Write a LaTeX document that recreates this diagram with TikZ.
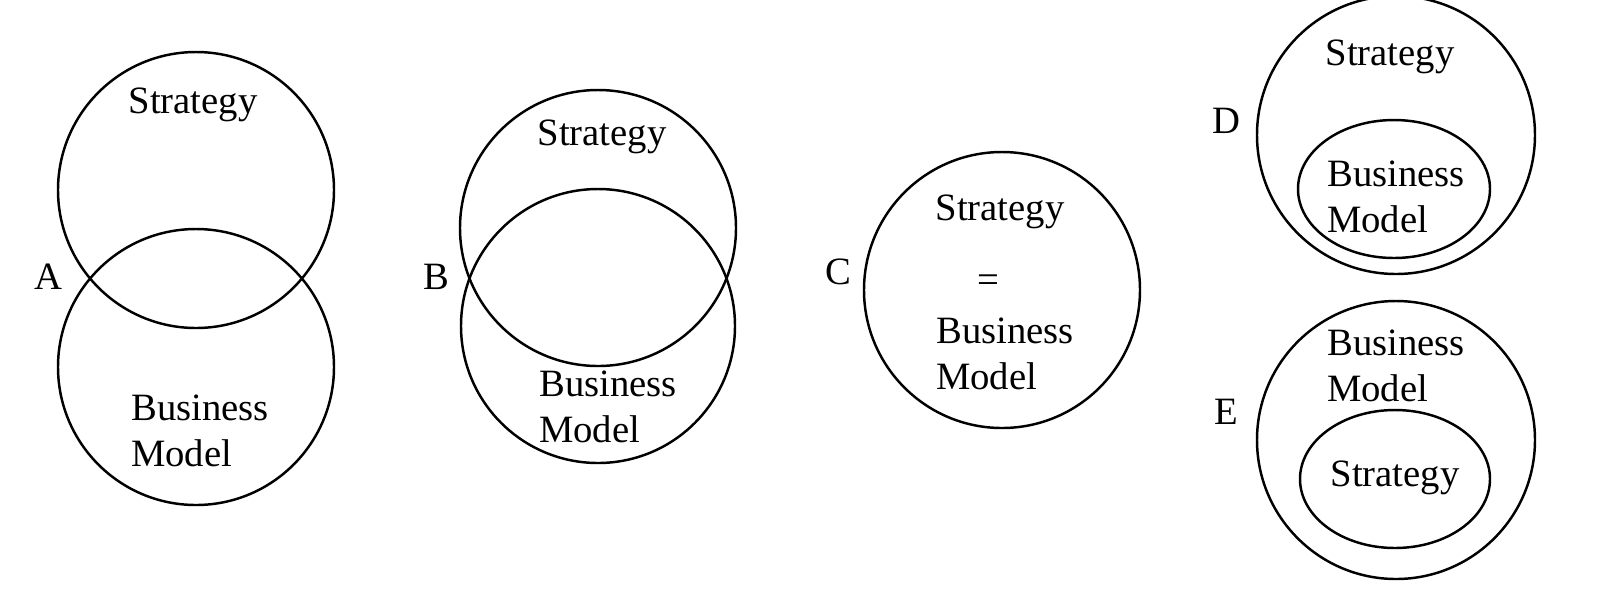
\documentclass[tikz,border=0pt]{standalone}
\usepackage{fontspec}
\setmainfont{Liberation Serif}
\begin{document}
\begin{tikzpicture}[x=0.01cm,y=-0.01cm,
  set/.style={draw,line width=0.7pt},
  lbl/.style={font=\fontsize{11}{13}\selectfont},
  two/.style={lbl,align=left}]
\useasboundingbox (0,0) rectangle (1620,599);

% A
\draw[set] (196,190) circle (138);
\draw[set] (196,367) circle (138);
\node[lbl] (a) at (48,277) {A};
\node[lbl] (sa) at (193,105) {Strategy};
\node[two] (ba) at (200,431) {Business\\Model};

% B
\draw[set] (598,228) circle (138);
\draw[set] (598,326) circle (137);
\node[lbl] (b) at (436,277) {B};
\node[lbl] (sb) at (602,137) {Strategy};
\node[two] (bb) at (608,407) {Business\\Model};

% C
\draw[set] (1002,290) circle (138);
\node[lbl] (c) at (838,272) {C};
\node[lbl] (sc) at (1000,212) {Strategy};
\node[lbl] (eq) at (988,284) {=};
\node[two] (bc) at (1005,354) {Business\\Model};

% D
\draw[set] (1396,135) circle (139);
\draw[set] (1394,189) ellipse (96 and 69);
\node[lbl] (d) at (1226,121) {D};
\node[lbl] (sd) at (1390,57) {Strategy};
\node[two] (bd) at (1396,197) {Business\\Model};

% E
\draw[set] (1396,440) circle (139);
\draw[set] (1395,479) ellipse (95 and 69);
\node[lbl] (e) at (1226,412) {E};
\node[two] (be) at (1396,366) {Business\\Model};
\node[lbl] (se) at (1395,478) {Strategy};
\end{tikzpicture}
\end{document}
